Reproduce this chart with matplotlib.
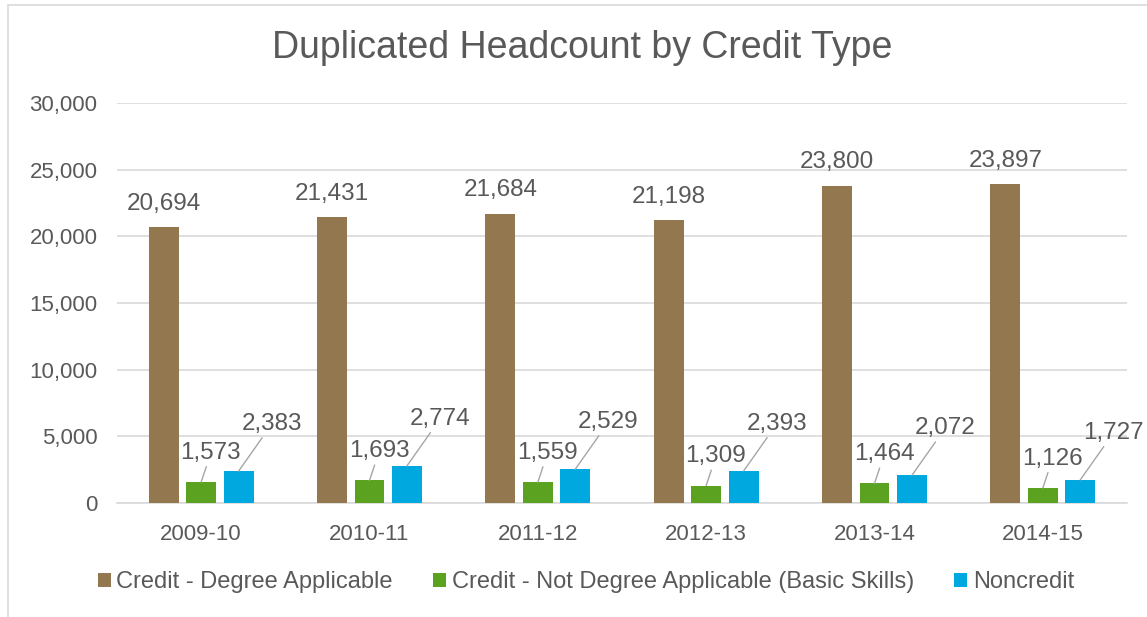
import numpy as np
import matplotlib
matplotlib.use("Agg")
import matplotlib.pyplot as plt
from matplotlib.patches import Rectangle

# Data
years = ['2009-10', '2010-11', '2011-12', '2012-13', '2013-14', '2014-15']
degree = [20694, 21431, 21684, 21198, 23800, 23897]
basic = [1573, 1693, 1559, 1309, 1464, 1126]
noncredit = [2383, 2774, 2529, 2393, 2072, 1727]
series_names = ['Credit - Degree Applicable',
                'Credit - Not Degree Applicable (Basic Skills)',
                'Noncredit']

plt.rcParams['font.family'] = ['Liberation Sans', 'DejaVu Sans']
txt = '#595959'
colors = ['#93774E', '#5BA220', '#00A8E0']

fig = plt.figure(figsize=(11.47, 6.17), dpi=100)
ax = fig.add_axes([117/1147, 1 - 503/617, 1010/1147, 400/617])

x = np.arange(len(years))
w = 0.178
off = 0.222
ax.bar(x - off, degree, w, color=colors[0], label=series_names[0], zorder=3)
ax.bar(x, basic, w, color=colors[1], label=series_names[1], zorder=3)
ax.bar(x + off, noncredit, w, color=colors[2], label=series_names[2], zorder=3)

ax.set_xlim(-0.5, len(years) - 0.5)
ax.set_ylim(0, 30000)
ax.set_yticks(range(0, 30001, 5000))
ax.set_yticklabels(['{:,}'.format(v) for v in range(0, 30001, 5000)])
ax.set_xticks(x)
ax.set_xticklabels(years)
ax.tick_params(axis='both', length=0, labelsize=16, colors=txt)
ax.tick_params(axis='x', pad=15)
ax.tick_params(axis='y', pad=14)
ax.grid(axis='y', color='#D9D9D9', linewidth=1.2, zorder=0)
for s in ['top', 'right', 'left']:
    ax.spines[s].set_visible(False)
ax.spines['bottom'].set_color('#D9D9D9')
ax.spines['bottom'].set_linewidth(1.2)

lab_fs = 17.5
line_kw = dict(arrowstyle='-', color='#A6A6A6', lw=1, shrinkA=0, shrinkB=0)
# brown labels directly above
for xi, v in zip(x, degree):
    ax.annotate('{:,}'.format(v), (xi - off, v), xytext=(0, 9),
                textcoords='offset points', ha='center', va='bottom',
                fontsize=lab_fs, color=txt)
# green and blue labels with leader lines
for xi, v in zip(x, basic):
    ax.annotate('{:,}'.format(v), (xi, v), xytext=(7, 21),
                textcoords='offset points', ha='center', va='center',
                fontsize=lab_fs, color=txt, arrowprops=line_kw)
for xi, v in zip(x + off, noncredit):
    ax.annotate('{:,}'.format(v), (xi, v), xytext=(24, 34),
                textcoords='offset points', ha='center', va='center',
                fontsize=lab_fs, color=txt, arrowprops=line_kw)

fig.text(582/1147, 1 - 48/617, 'Duplicated Headcount by Credit Type',
         ha='center', va='center', fontsize=27, color=txt)

leg = fig.legend(loc='center', bbox_to_anchor=(586/1147, 1 - 582/617), ncol=3,
                 frameon=False, fontsize=17, handlelength=0.55,
                 handleheight=0.55, handletextpad=0.25, columnspacing=1.7)
for t in leg.get_texts():
    t.set_color(txt)

fig.patches.append(Rectangle((8/1147, -0.01), 1.1, 1 - 5/617 + 0.01,
                             transform=fig.transFigure, fill=False,
                             edgecolor='#D9D9D9', linewidth=1.2))

fig.savefig('out.png', dpi=100)
